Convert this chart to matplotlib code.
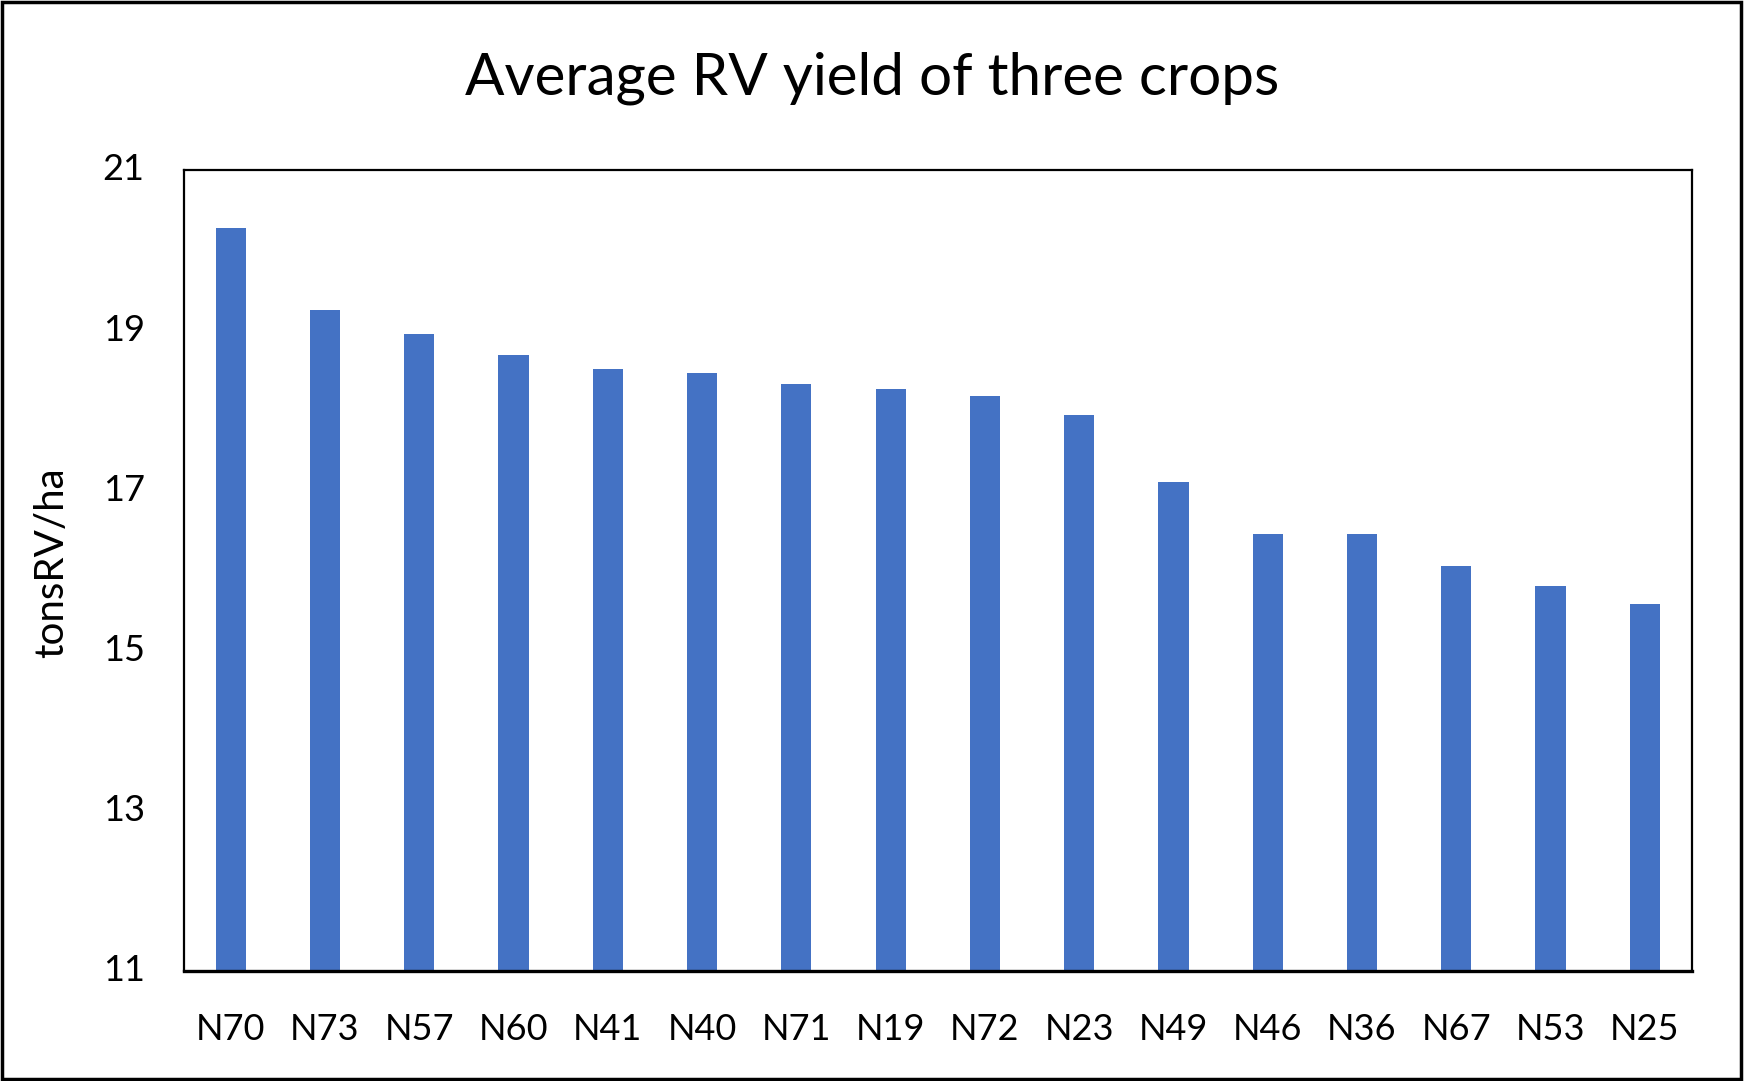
import numpy as np
import matplotlib
matplotlib.use("Agg")
import matplotlib.pyplot as plt
from matplotlib.patches import Rectangle

# datos
categorias = ["N70", "N73", "N57", "N60", "N41", "N40", "N71", "N19",
              "N72", "N23", "N49", "N46", "N36", "N67", "N53", "N25"]
rendimiento = [20.28, 19.25, 18.95, 18.69, 18.51, 18.46, 18.33, 18.27,
               18.18, 17.94, 17.10, 16.46, 16.45, 16.05, 15.81, 15.58]
yticks = [11, 13, 15, 17, 19, 21]

plt.rcParams['font.family'] = ['Lato', 'DejaVu Sans']

W, H = 1744, 1081
fig = plt.figure(figsize=(W / 100, H / 100), dpi=100)
ax = fig.add_axes([183.5 / W, 1 - 971 / H, (1692 - 183.5) / W, (971 - 170) / H])

x = np.arange(len(categorias))
ax.bar(x, rendimiento, width=0.32, color="#4472C4", zorder=2)

ax.set_xlim(-0.5, len(categorias) - 0.5)
ax.set_ylim(11, 21)
ax.set_yticks(yticks)
ax.set_xticks(x)
ax.set_xticklabels(categorias)
ax.tick_params(axis="both", length=0, labelsize=26)
ax.tick_params(axis="x", pad=30)
ax.tick_params(axis="y", pad=28)
for lab in ax.get_yticklabels():
    lab.set_verticalalignment("center")

for s in ax.spines.values():
    s.set_linewidth(1.6)
ax.spines["bottom"].set_linewidth(2.4)

ax.set_ylabel("tonsRV/ha", fontsize=29)
ax.yaxis.set_label_coords(-0.0752, 0.51)
fig.text(0.5, 1 - 78 / H, "Average RV yield of three crops", ha="center",
         va="center", fontsize=42)

# borde exterior
fig.patches.append(Rectangle((0.001, 0.002), 0.997, 0.996, transform=fig.transFigure,
                             fill=False, edgecolor="black", linewidth=2.5))

plt.savefig("out.png", dpi=100)
plt.close()
